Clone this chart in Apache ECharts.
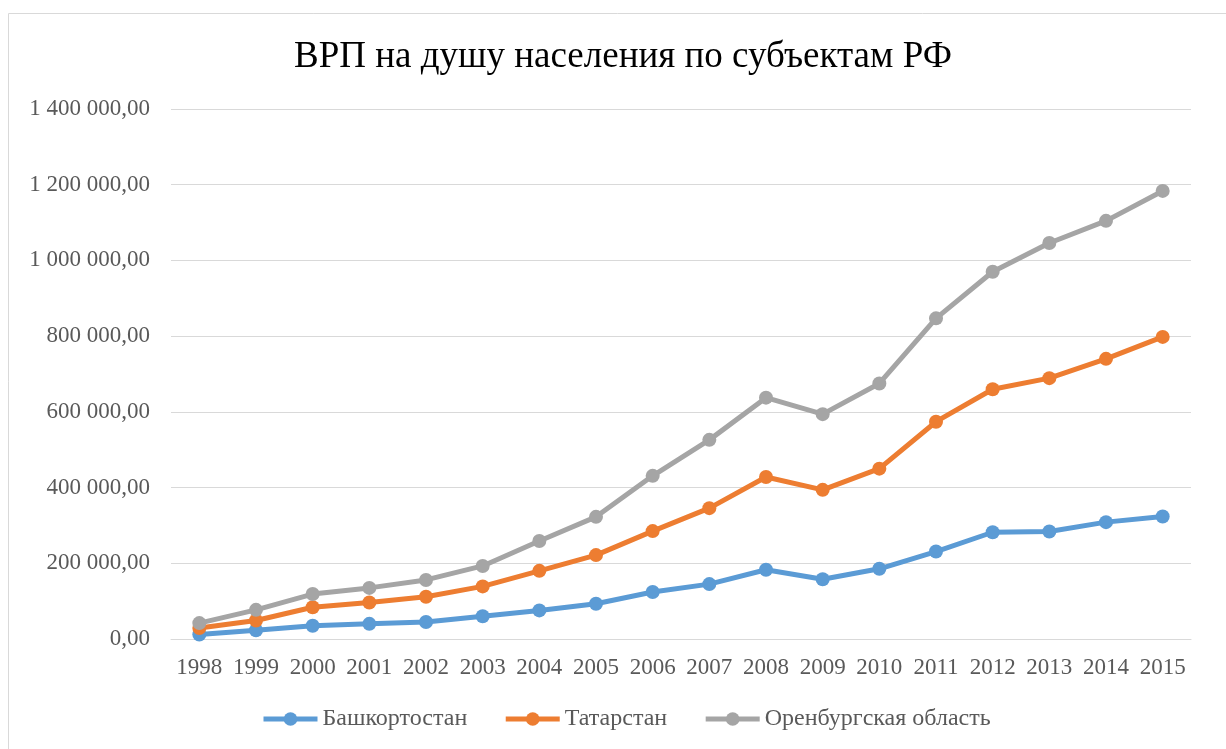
<!DOCTYPE html>
<html>
<head>
<meta charset="utf-8">
<script src="https://cdn.jsdelivr.net/npm/echarts@6/dist/echarts.min.js"></script>
<style>
html,body{margin:0;padding:0;background:#fff;}
#c{width:1226px;height:749px;}
</style>
</head>
<body>
<div id="c"></div>
<script>
var titleText = 'ВРП на душу населения по субъектам РФ';
var years = ['1998','1999','2000','2001','2002','2003','2004','2005','2006','2007','2008','2009','2010','2011','2012','2013','2014','2015'];
var bashkortostan = [12000, 23000, 35000, 40000, 45000, 60000, 75500, 93000, 124000, 145000, 183000, 158000, 185500, 231000, 282000, 284000, 308700, 323500];
var tatarstan = [29000, 49000, 84000, 96600, 111600, 139000, 180000, 221600, 285000, 345600, 428000, 394000, 450000, 574000, 659600, 689000, 740000, 798000];
var orenburg = [42000, 77000, 118700, 135000, 156000, 193000, 259000, 322700, 431000, 526000, 637500, 594000, 675000, 847000, 970000, 1046000, 1104500, 1183600];
var seriesNames = ['Башкортостан', 'Татарстан', 'Оренбургская область'];
var colors = ['#5B9BD5', '#ED7D31', '#A5A5A5'];

function fmt(v) {
  var s = Math.round(v).toString();
  s = s.replace(/\B(?=(\d{3})+(?!\d))/g, ' ');
  return s + ',00';
}

var chart = echarts.init(document.getElementById('c'), null, {renderer: 'canvas'});
var font = '"Liberation Serif", "Times New Roman", serif';
function mk(name, data, color) {
  return {
    name: name, type: 'line', data: data,
    symbol: 'circle', symbolSize: 14,
    lineStyle: {width: 5, color: color},
    itemStyle: {color: color},
    animation: false
  };
}
chart.setOption({
  animation: false,
  textStyle: {fontFamily: font},
  graphic: [{
    type: 'rect', shape: {x: 8.5, y: 13.5, width: 1400, height: 900},
    style: {fill: 'none', stroke: '#d9d9d9', lineWidth: 1}, z: -1
  }],
  title: {
    text: titleText, left: 289, top: 34,
    textStyle: {fontFamily: font, fontSize: 37, fontWeight: 'normal', color: '#000'}
  },
  legend: {
    bottom: 13, left: 256,
    itemWidth: 54, itemHeight: 17, itemGap: 36,
    lineStyle: {width: 5},
    textStyle: {fontFamily: font, fontSize: 24, color: '#595959'},
    data: seriesNames
  },
  grid: {left: 171, right: 35, top: 109, bottom: 110, containLabel: false},
  xAxis: {
    type: 'category', data: years, boundaryGap: true,
    axisLine: {show: true, lineStyle: {color: '#d9d9d9', width: 1}},
    axisTick: {show: false},
    axisLabel: {fontFamily: font, fontSize: 23, color: '#595959', margin: 17, interval: 0}
  },
  yAxis: {
    type: 'value', min: 0, max: 1400000, interval: 200000,
    axisLine: {show: false}, axisTick: {show: false},
    splitLine: {lineStyle: {color: '#d9d9d9', width: 1}},
    axisLabel: {fontFamily: font, fontSize: 23, color: '#595959', margin: 21, formatter: fmt}
  },
  series: [
    mk(seriesNames[0], bashkortostan, colors[0]),
    mk(seriesNames[1], tatarstan, colors[1]),
    mk(seriesNames[2], orenburg, colors[2])
  ]
});
</script>
</body>
</html>
